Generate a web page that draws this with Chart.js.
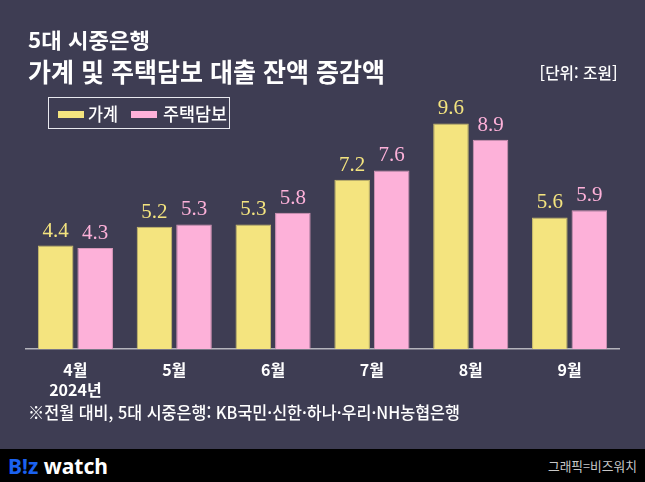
<!DOCTYPE html>
<html lang="ko">
<head>
<meta charset="utf-8">
<script src="https://cdn.jsdelivr.net/npm/chart.js@4.4.1/dist/chart.umd.min.js"></script>
<style>
  html, body { margin: 0; padding: 0; }
  body {
    width: 645px; height: 482px; position: relative; overflow: hidden;
    background: #3e3d53;
    font-family: "Noto Sans CJK KR", "Noto Sans", sans-serif;
    color: #fff;
  }
  .txt { position: absolute; white-space: nowrap; line-height: 1; }
  .fit { display: inline-block; transform-origin: left center; white-space: nowrap; }
  #sub { left: 28px; top: 29px; font-size: 21px; font-weight: 700; }
  #title { left: 28px; top: 58px; font-size: 26px; font-weight: 700; }
  #unit { right: 27px; top: 64px; font-size: 16px; font-weight: 500; }
  #unit .fit { transform-origin: right center; }
  #legend {
    position: absolute; left: 48px; top: 97px; width: 182px; height: 32px;
    border: 1.5px solid #e8e8ee; box-sizing: border-box;
  }
  .sw { position: absolute; top: 13px; width: 26px; height: 7px; }
  .lg { position: absolute; top: 6px; font-size: 18px; font-weight: 500; white-space: nowrap; line-height: 1; }
  #note { left: 28px; top: 403px; font-size: 17px; font-weight: 500; }
  #chartWrap { position: absolute; left: 0; top: 0; width: 645px; height: 449px; }
  #footer { position: absolute; left: 0; top: 449px; width: 645px; height: 33px; background: #000; }
  #logo { left: 8px; top: 5px; font-family: "Noto Sans", "DejaVu Sans", sans-serif; font-size: 22px; font-weight: 700; }
  #logo .b { color: #1b62f0; }
  #credit { right: 8px; top: 10px; font-size: 13px; color: #c8c8c8; }
  #credit .fit { transform-origin: right center; }
</style>
</head>
<body>
<div id="chartWrap"><canvas id="loanChart" width="645" height="449"></canvas></div>

<div class="txt" id="sub"><span class="fit" data-w="122">5대 시중은행</span></div>
<div class="txt" id="title"><span class="fit" data-w="357">가계 및 주택담보 대출 잔액 증감액</span></div>
<div class="txt" id="unit"><span class="fit" data-w="78">[단위: 조원]</span></div>

<div id="legend">
  <div class="sw" style="left:9px; background:#f4e47f;"></div>
  <div class="lg" style="left:39px;"><span class="fit" data-w="30">가계</span></div>
  <div class="sw" style="left:82px; background:#fdb1d9;"></div>
  <div class="lg" style="left:114px;"><span class="fit" data-w="64">주택담보</span></div>
</div>

<div class="txt" id="note"><span class="fit" data-w="432">※전월 대비, 5대 시중은행: KB국민·신한·하나·우리·NH농협은행</span></div>

<div id="footer">
  <div class="txt" id="logo"><span class="fit" data-w="100"><span class="b">B!z</span> watch</span></div>
  <div class="txt" id="credit"><span class="fit" data-w="89">그래픽=비즈워치</span></div>
</div>

<script>
// --- data ---
const months = [['4월', '2024년'], '5월', '6월', '7월', '8월', '9월'];
const householdLoans = [4.4, 5.2, 5.3, 7.2, 9.6, 5.6];   // 가계
const mortgageLoans = [4.3, 5.3, 5.8, 7.6, 8.9, 5.9];    // 주택담보
const seriesNames = ['가계', '주택담보'];

// squeeze the condensed-looking text to its width in the picture
document.querySelectorAll('.fit').forEach(el => {
    const target = Number(el.dataset.w);
    const natural = el.getBoundingClientRect().width;
    if (natural > 0) el.style.transform = `scaleX(${target / natural})`;
});

// value labels above each bar, same colour as the bar
const valueLabels = {
    id: 'valueLabels',
    afterDatasetsDraw(chart) {
        const ctx = chart.ctx;
        ctx.save();
        ctx.font = '21px "Liberation Serif", "DejaVu Serif", serif';
        ctx.textAlign = 'center';
        ctx.textBaseline = 'alphabetic';
        chart.data.datasets.forEach((ds, i) => {
            const meta = chart.getDatasetMeta(i);
            ctx.fillStyle = ds.labelColor;
            meta.data.forEach((bar, j) => {
                ctx.fillText(ds.data[j].toFixed(1), bar.x, bar.y - 9);
            });
        });
        ctx.restore();
    }
};

const ctx = document.getElementById('loanChart').getContext('2d');
new Chart(ctx, {
    type: 'bar',
    data: {
        labels: months,
        datasets: [
            {
                label: seriesNames[0],
                data: householdLoans,
                backgroundColor: '#f4e47f',
                borderColor: '#c9bc6c',
                borderWidth: 1,
                labelColor: '#f4e47f'
            },
            {
                label: seriesNames[1],
                data: mortgageLoans,
                backgroundColor: '#fdb1d9',
                borderColor: '#d597b8',
                borderWidth: 1,
                labelColor: '#fdb1d9'
            }
        ]
    },
    options: {
        responsive: false,
        animation: false,
        events: [],
        layout: { padding: { top: 114, left: 26, right: 26, bottom: 0 } },
        datasets: {
            bar: { categoryPercentage: 0.8, barPercentage: 0.9 }
        },
        scales: {
            x: {
                grid: { display: false },
                border: { display: true, color: '#b4b4bc', width: 1.5 },
                ticks: {
                    color: '#ffffff',
                    padding: 3,
                    font: { family: '"Noto Sans CJK KR", sans-serif', size: 16, weight: '700', lineHeight: 1.25 },
                    maxRotation: 0,
                    autoSkip: false
                },
                afterFit: (scale) => { scale.height = 100; }
            },
            y: {
                display: false,
                min: 0,
                max: 10
            }
        },
        plugins: {
            legend: { display: false },
            tooltip: { enabled: false }
        }
    },
    plugins: [valueLabels]
});
</script>
</body>
</html>
